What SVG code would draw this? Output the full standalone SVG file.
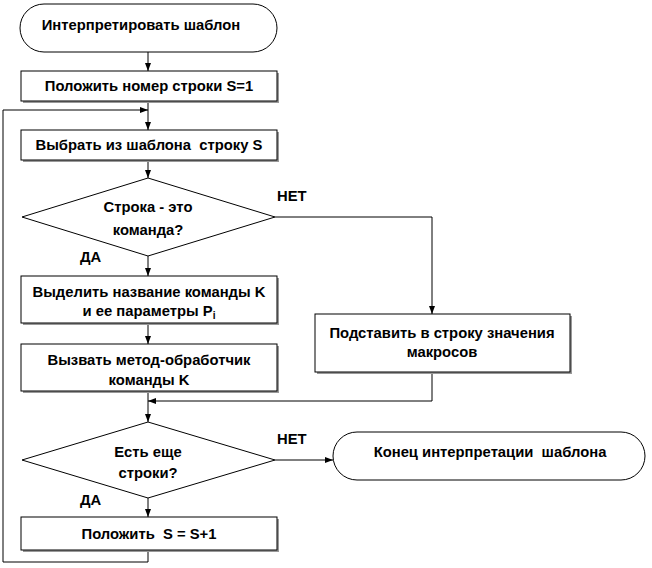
<svg xmlns="http://www.w3.org/2000/svg" width="652" height="568" viewBox="0 0 652 568">
<defs>
<style>
.t{font-family:"Liberation Sans",Arial,sans-serif;font-size:14.8px;font-weight:bold;fill:#000;text-anchor:middle;white-space:pre}
.l{font-family:"Liberation Sans",Arial,sans-serif;font-size:14.8px;font-weight:bold;fill:#000}
.box{fill:#fff;stroke:#000;stroke-width:1}
.sh{fill:#999}
.c{fill:none;stroke:#000;stroke-width:1}
</style>
<marker id="ah" viewBox="0 0 8 8" refX="8" refY="4" markerWidth="8" markerHeight="8" orient="auto" markerUnits="userSpaceOnUse">
<path d="M0,1 L8,4 L0,7 Z" fill="#000"/>
</marker>
</defs>
<rect width="652" height="568" fill="#fff"/>
<g id="connectors">
<line class="c" x1="148" y1="52" x2="148" y2="71" marker-end="url(#ah)"/>
<line class="c" x1="148" y1="102" x2="148" y2="130" marker-end="url(#ah)"/>
<polyline class="c" points="148,550 148,562 3,562 3,110 148,110" marker-end="url(#ah)"/>
<line class="c" x1="148" y1="161" x2="148" y2="178" marker-end="url(#ah)"/>
<line class="c" x1="148" y1="256" x2="148" y2="276" marker-end="url(#ah)"/>
<line class="c" x1="148" y1="324" x2="148" y2="344" marker-end="url(#ah)"/>
<line class="c" x1="148" y1="392" x2="148" y2="422" marker-end="url(#ah)"/>
<polyline class="c" points="275,217 432,217 432,314" marker-end="url(#ah)"/>
<polyline class="c" points="432,373 432,401 148,401" marker-end="url(#ah)"/>
<line class="c" x1="275" y1="460" x2="333" y2="460" marker-end="url(#ah)"/>
<line class="c" x1="148" y1="498" x2="148" y2="517" marker-end="url(#ah)"/>
<text class="l" x="277" y="201">НЕТ</text>
<text class="l" x="80" y="262">ДА</text>
<text class="l" x="277" y="444">НЕТ</text>
<text class="l" x="80" y="505">ДА</text>
</g>
<g id="start">
<rect class="box" x="20" y="4" width="257" height="48" rx="24" ry="24"/>
<text class="t" x="141" y="30">Интерпретировать шаблон</text>
</g>
<g id="set1">
<rect class="sh" x="23" y="73" width="256" height="30"/>
<rect class="box" x="21" y="71" width="256" height="30"/>
<text class="t" x="149" y="91">Положить номер строки S=1</text>
</g>
<g id="select">
<rect class="sh" x="23" y="132" width="256" height="30"/>
<rect class="box" x="21" y="130" width="256" height="30"/>
<text class="t" x="149" y="150">Выбрать из шаблона  строку S</text>
</g>
<g id="isCommand">
<polygon class="box" points="148,178 275,217 148,256 22,217"/>
<text class="t" x="148" y="212">Строка - это</text>
<text class="t" x="148" y="235">команда?</text>
</g>
<g id="extract">
<rect class="sh" x="23" y="278" width="256" height="47"/>
<rect class="box" x="21" y="276" width="256" height="47"/>
<text class="t" x="149" y="297">Выделить название команды K</text>
<text class="t" x="149" y="316">и ее параметры P<tspan font-size="10" dy="3">i</tspan></text>
</g>
<g id="call">
<rect class="sh" x="23" y="346" width="256" height="47"/>
<rect class="box" x="21" y="344" width="256" height="47"/>
<text class="t" x="149" y="365">Вызвать метод-обработчик</text>
<text class="t" x="149" y="385">команды K</text>
</g>
<g id="substitute">
<rect class="sh" x="317" y="316" width="255" height="58"/>
<rect class="box" x="315" y="314" width="255" height="58"/>
<text class="t" x="442" y="338">Подставить в строку значения</text>
<text class="t" x="442" y="357">макросов</text>
</g>
<g id="hasMore">
<polygon class="box" points="148,422 275,460 148,498 22,460"/>
<text class="t" x="148" y="457">Есть еще</text>
<text class="t" x="148" y="478">строки?</text>
</g>
<g id="end">
<rect class="box" x="333" y="432" width="312" height="48" rx="24" ry="24"/>
<text class="t" x="490" y="457">Конец интерпретации  шаблона</text>
</g>
<g id="inc">
<rect class="sh" x="23" y="519" width="256" height="33"/>
<rect class="box" x="21" y="517" width="256" height="33"/>
<text class="t" x="149" y="539">Положить  S = S+1</text>
</g>
</svg>
